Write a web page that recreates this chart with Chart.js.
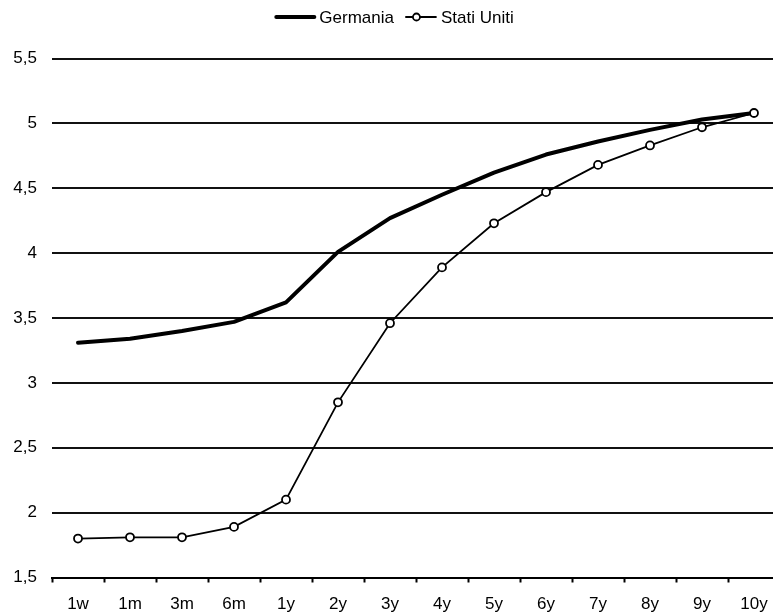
<!DOCTYPE html>
<html>
<head>
<meta charset="utf-8">
<script src="https://cdn.jsdelivr.net/npm/chart.js@4/dist/chart.umd.min.js"></script>
<style>
  html, body { margin: 0; padding: 0; background: #fff; overflow: hidden; }
  #wrap { width: 790px; height: 615px; }
</style>
</head>
<body>
<div id="wrap"><canvas id="c" width="790" height="615"></canvas></div>
<script>
// Yield curve by maturity
const maturities = ['1w', '1m', '3m', '6m', '1y', '2y', '3y', '4y', '5y', '6y', '7y', '8y', '9y', '10y'];
const germania   = [3.31, 3.34, 3.40, 3.47, 3.62, 4.01, 4.27, 4.45, 4.62, 4.76, 4.86, 4.95, 5.03, 5.08];
const statiUniti = [1.80, 1.81, 1.81, 1.89, 2.10, 2.85, 3.46, 3.89, 4.23, 4.47, 4.68, 4.83, 4.97, 5.08];
const seriesNames = ['Germania', 'Stati Uniti'];

const FONT = { family: '"Liberation Sans", Arial, sans-serif', size: 17 };

// Legend drawn above the plot: a line sample (with a circle marker when the series has points) and the name
const topLegend = {
  id: 'topLegend',
  afterDraw(chart) {
    const ctx = chart.ctx;
    const gapText = 5, gapItem = 12, y = 17;
    ctx.save();
    ctx.font = FONT.size + 'px ' + FONT.family;
    const items = chart.data.datasets.map(ds => {
      const sym = ds.pointRadius > 0 ? 30 : 38;
      return { ds, sym, w: sym + gapText + ctx.measureText(ds.label).width };
    });
    const total = items.reduce((s, it) => s + it.w, 0) + gapItem * (items.length - 1);
    let x = (chart.width - total) / 2;
    items.forEach(({ ds, sym, w }) => {
      ctx.strokeStyle = ds.borderColor;
      ctx.lineWidth = ds.borderWidth;
      ctx.lineCap = 'round';
      ctx.beginPath();
      ctx.moveTo(x, y);
      ctx.lineTo(x + sym, y);
      ctx.stroke();
      if (ds.pointRadius > 0) {
        ctx.beginPath();
        ctx.arc(x + sym * 0.35, y, ds.pointRadius - 0.5, 0, Math.PI * 2);
        ctx.fillStyle = ds.pointBackgroundColor;
        ctx.fill();
        ctx.lineWidth = ds.pointBorderWidth;
        ctx.strokeStyle = ds.pointBorderColor;
        ctx.stroke();
      }
      ctx.fillStyle = '#000';
      ctx.textBaseline = 'middle';
      ctx.textAlign = 'left';
      ctx.fillText(ds.label, x + sym + gapText, y + 1);
      x += w + gapItem;
    });
    ctx.restore();
  }
};

new Chart(document.getElementById('c'), {
  type: 'line',
  data: {
    labels: maturities,
    datasets: [
      {
        label: seriesNames[0],
        data: germania,
        order: 1,
        borderColor: '#000',
        borderWidth: 4,
        pointRadius: 0,
        tension: 0,
        borderCapStyle: 'round',
        borderJoinStyle: 'round'
      },
      {
        label: seriesNames[1],
        data: statiUniti,
        order: 0,
        borderColor: '#000',
        borderWidth: 1.8,
        pointRadius: 4,
        pointBackgroundColor: '#fff',
        pointBorderColor: '#000',
        pointBorderWidth: 1.8,
        tension: 0
      }
    ]
  },
  options: {
    responsive: false,
    animation: false,
    layout: { padding: { left: 0, top: 58.5, right: 10, bottom: 0 } },
    plugins: { legend: { display: false }, tooltip: { enabled: false } },
    scales: {
      x: {
        offset: true,
        border: { display: true, color: '#000', width: 2 },
        grid: { drawOnChartArea: false, drawTicks: true, tickLength: 5, tickColor: '#000', tickWidth: 2, offset: true },
        ticks: { color: '#000', font: FONT, padding: 12, maxRotation: 0, autoSkip: false },
        afterFit(scale) { scale.height = 37.5; }
      },
      y: {
        min: 1.5,
        max: 5.5,
        border: { display: false },
        grid: { color: '#111', lineWidth: 2, drawTicks: false },
        ticks: {
          stepSize: 0.5,
          color: '#000',
          font: FONT,
          padding: 15,
          callback: v => String(v).replace('.', ',')
        },
        afterFit(scale) { scale.width = 52; }
      }
    }
  },
  plugins: [topLegend]
});
</script>
</body>
</html>
